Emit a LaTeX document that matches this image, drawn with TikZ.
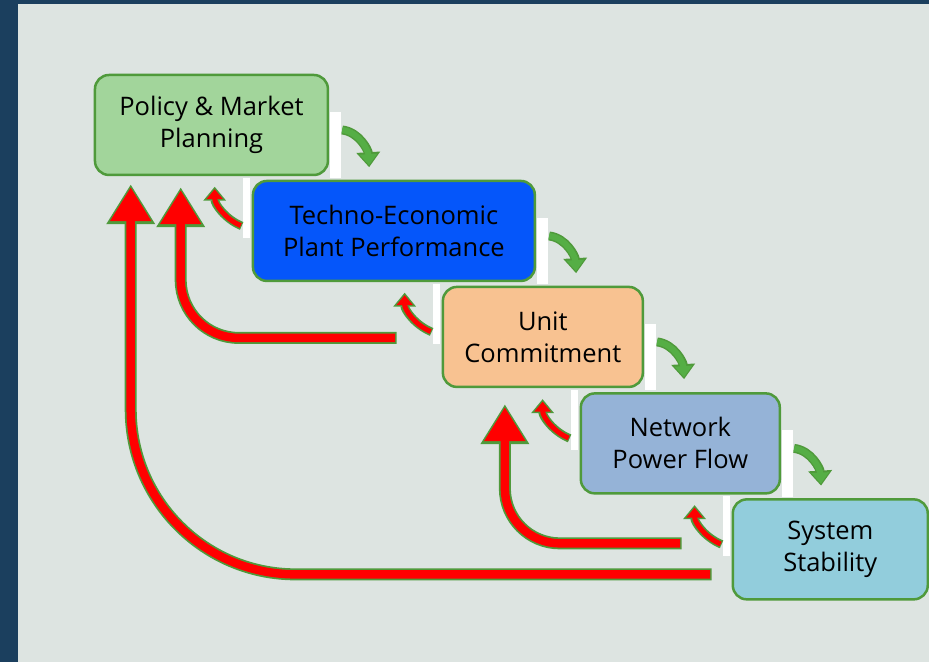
\documentclass[tikz,border=0pt]{standalone}
\usepackage{fontspec}
\setmainfont{Open Sans}
\usepackage{tikz}
\usetikzlibrary{arrows.meta,calc}
\definecolor{Navy}{HTML}{1B3F5E}
\definecolor{Panel}{HTML}{DDE4E1}
\definecolor{Edge}{HTML}{4F9A3B}
\definecolor{Flow}{HTML}{55AE45}
\definecolor{Pcolor}{HTML}{A2D59B}
\definecolor{Tcolor}{HTML}{0556FA}
\definecolor{Ucolor}{HTML}{F8C291}
\definecolor{Ncolor}{HTML}{95B3D7}
\definecolor{Scolor}{HTML}{92CDDC}

\begin{document}
\begin{tikzpicture}[x=1pt, y=-1pt,
  stage/.style={draw=Edge, line width=2.5pt, rounded corners=14pt, minimum height=100pt, inner sep=0pt, align=center, font=\fontsize{25.5}{32}\selectfont},
  flowdown/.style={draw=Edge, line width=9pt, -{Triangle[width=23pt,length=15pt]}, postaction={draw=Flow, line width=6pt, shorten >=2pt, -{Triangle[width=17pt,length=11pt]}}},
  flowup/.style={draw=Edge, line width=8.5pt, -{Triangle[width=22pt,length=14pt]}, postaction={draw=red, line width=5pt, shorten >=2.5pt, shorten <=1pt, -{Triangle[width=16pt,length=10pt]}}},
  feedback/.style={draw=Edge, line width=12pt, -{Triangle[width=46pt,length=40pt]}, postaction={draw=red, line width=8.5pt, shorten >=3pt, shorten <=1.5pt, -{Triangle[width=39pt,length=34pt]}}},
]
  % Background
  \fill[Navy] (0,0) rectangle (929,662);
  \fill[Panel] (18,4) rectangle (929,662);

  % Nodes
  \node[stage, fill=Pcolor, minimum width=233pt] (policy) at (211.5,125) {Policy \& Market\\Planning};
  \node[stage, fill=Tcolor, minimum width=282pt] (tech) at (394,231) {Techno-Economic\\Plant Performance};
  \node[stage, fill=Ucolor, minimum width=200pt] (unit) at (543,337) {Unit\\Commitment};
  \node[stage, fill=Ncolor, minimum width=199pt] (net) at (680.5,443.5) {Network\\Power Flow};
  \node[stage, fill=Scolor, minimum width=195pt] (stab) at (830.5,549.5) {System\\Stability};

  % White strips beside the boxes
  \foreach \n in {policy, tech, unit, net}
    \fill[white] ($(\n.east)+(1.25,-13)$) rectangle ($(\n.south east)+(12,2)$);
  \foreach \n in {tech, unit, net, stab}
    \fill[white] ($(\n.north west)+(-9,-2)$) rectangle ($(\n.west)+(-1.25,7)$);

  % Steps down
  \foreach \a in {policy, tech, unit, net}
    \draw[flowdown] ($(\a.east)+(13,5)$) .. controls ($(\a.east)+(30,7)$) and ($(\a.south east)+(39,-26)$) .. ($(\a.south east)+(40,-9)$);

  % Steps back
  \foreach \b in {tech, unit, net, stab}
    \draw[flowup] ($(\b.west)+(-10,-5)$) .. controls ($(\b.west)+(-27,-12)$) and ($(\b.north west)+(-37,24)$) .. ($(\b.north west)+(-37,7)$);

  % Feedback loops
  \draw[feedback, rounded corners=165pt] ($(stab.west)+(-20,25)$) -| ($(policy.south west)+(37,8)$);
  \draw[feedback, rounded corners=58pt] ($(unit.west)+(-45,1)$) -| ($(policy.south west)+(87,11)$);
  \draw[feedback, rounded corners=55pt] ($(stab.west)+(-50,-6)$) -| ($(unit.south)+(-38,16)$);
\end{tikzpicture}
\end{document}
